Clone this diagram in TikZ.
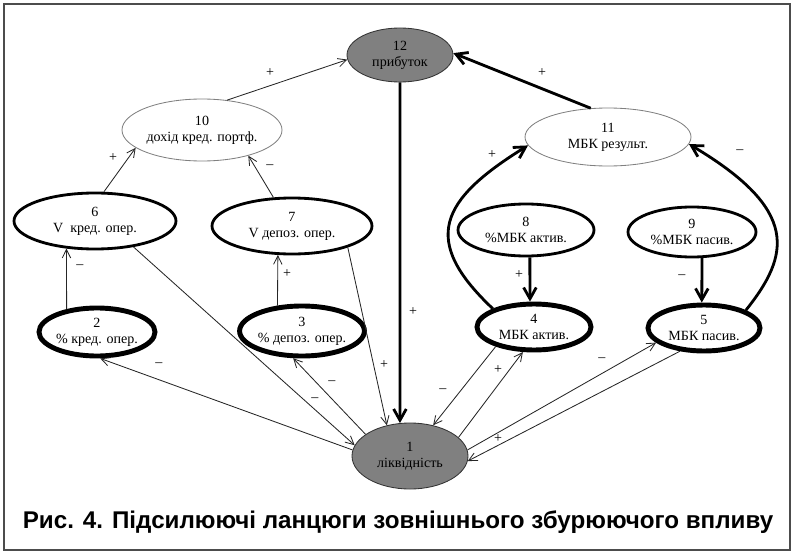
\documentclass[tikz,border=0pt]{standalone}
\usepackage{fontspec}
\setmainfont{Liberation Serif}
\newfontfamily\capfont{Liberation Sans}
\usetikzlibrary{shapes.geometric}
\usetikzlibrary{arrows.meta}

\begin{document}
\begin{tikzpicture}[
    var/.style={ellipse, draw, align=center, inner sep=0pt, font=\fontsize{10}{11.5}\selectfont},
    varmain/.style={var, fill=gray, draw=black!80, line width=0.6pt},
    varsum/.style={var, draw=gray, line width=0.6pt},
    varmid/.style={var, line width=2pt},
    varbold/.style={var, line width=3.5pt},
    signlbl/.style={font=\fontsize{10}{11.5}\selectfont, inner sep=1pt},
    thinarr/.style={-{Straight Barb[length=6pt,width=6pt]}, line width=0.6pt, black!85},
    thickarr/.style={-{Straight Barb[length=8pt,width=9pt]}, line width=2pt}
]

    \useasboundingbox (0, 0) rectangle (19.775, -13.8);
    \draw[gray!60!black, line width=1pt] (0.1, -0.1) rectangle (19.75, -13.75);

    \node[varmain, minimum width=2.65cm, minimum height=1.35cm] (n12) at (10, -1.375) {12\\прибуток};
    \node[varsum, minimum width=4cm, minimum height=1.55cm] (n10) at (5.05, -3.25) {10\\дохід кред. портф.};
    \node[varsum, minimum width=4.15cm, minimum height=1.45cm] (n11) at (15.2, -3.425) {11\\МБК результ.};

    \node[varmid, minimum width=4.05cm, minimum height=1.4cm] (n6) at (2.375, -5.525) {6\\V\ \ кред. опер.};
    \node[varmid, minimum width=4cm, minimum height=1.4cm] (n7) at (7.3, -5.65) {7\\V депоз. опер.};
    \node[varmid, minimum width=3.4cm, minimum height=1.3cm] (n8) at (13.15, -5.75) {8\\\%МБК актив.};
    \node[varmid, minimum width=3.2cm, minimum height=1.25cm] (n9) at (17.3, -5.8) {9\\\%МБК пасив.};

    \node[varbold, minimum width=2.9cm, minimum height=1.2cm] (n2) at (2.425, -8.3) {2\\\% кред. опер.};
    \node[varbold, minimum width=2.9cm, minimum height=1.25cm] (n3) at (7.55, -8.275) {3\\\% депоз. опер.};
    \node[varbold, minimum width=2.85cm, minimum height=1.15cm] (n4) at (13.35, -8.175) {4\\МБК актив.};
    \node[varbold, minimum width=2.8cm, minimum height=1.15cm] (n5) at (17.6, -8.2) {5\\МБК пасив.};

    \node[varmain, minimum width=2.9cm, minimum height=1.65cm] (n1) at (10.25, -11.4) {1\\ліквідність};

    \draw[thinarr] (n10.50) -- (n12.185);
    \draw[thickarr] (n11.121) -- (n12.2);
    \draw[thickarr] (n12.270) -- (n1.107);
    \draw[thinarr] (n6.73) -- (n10.195);
    \draw[thinarr] (n7.123) -- (n10.331);
    \draw[thinarr] (n2.143) -- (n6.224);
    \draw[thinarr] (n3.134) -- (n7.244);
    \draw[thinarr] (n1.174) -- (n2.277);
    \draw[thinarr] (n6.326) -- (n1.169);
    \draw[thinarr] (n1.154) -- (n3.252);
    \draw[thinarr] (n7.339) -- (n1.127);
    \draw[thickarr] (n8.278) -- (n4.99);
    \draw[thickarr] (n9.291) -- (n5.95);
    \draw[thickarr] (n4.156) .. controls (10.5, -6.0) and (11.0, -5.0) .. (n11.186);
    \draw[thickarr] (n5.23) .. controls (19.75, -6.375) and (20.0, -5.25) .. (n11.355);
    \draw[thinarr] (n4.207) -- (n1.53);
    \draw[thinarr] (n1.21) -- (n4.246);
    \draw[thinarr] (n1.6) -- (n5.197);
    \draw[thinarr] (n5.224) -- (n1.355);

    \node[signlbl] (s10) at (6.75, -1.825) {+};
    \node[signlbl] (s11) at (13.55, -1.825) {+};
    \node[signlbl] (s12) at (10.325, -7.8) {+};
    \node[signlbl] (s6a) at (2.825, -3.95) {+};
    \node[signlbl] (s7a) at (6.75, -4.175) {–};
    \node[signlbl] (s2) at (2.0, -6.675) {–};
    \node[signlbl] (s3) at (7.175, -6.85) {+};
    \node[signlbl] (s1a) at (3.975, -9.125) {–};
    \node[signlbl] (s6b) at (7.875, -10.0) {–};
    \node[signlbl] (s1b) at (8.3, -9.575) {–};
    \node[signlbl] (s7b) at (9.6, -9.125) {+};
    \node[signlbl] (s8) at (12.975, -6.875) {+};
    \node[signlbl] (s9) at (17.05, -6.925) {–};
    \node[signlbl] (s4a) at (12.3, -3.875) {+};
    \node[signlbl] (s5a) at (18.5, -3.8) {–};
    \node[signlbl] (s4b) at (11.075, -9.775) {–};
    \node[signlbl] (s1c) at (12.45, -9.25) {+};
    \node[signlbl] (s1d) at (15.05, -9.0) {–};
    \node[signlbl] (s5b) at (12.45, -10.975) {+};

    \node[font=\capfont\bfseries\fontsize{17.2}{20}\selectfont] (cap) at (9.95, -13.05) {Рис. 4. Підсилюючі ланцюги зовнішнього збурюючого впливу};

\end{tikzpicture}
\end{document}
